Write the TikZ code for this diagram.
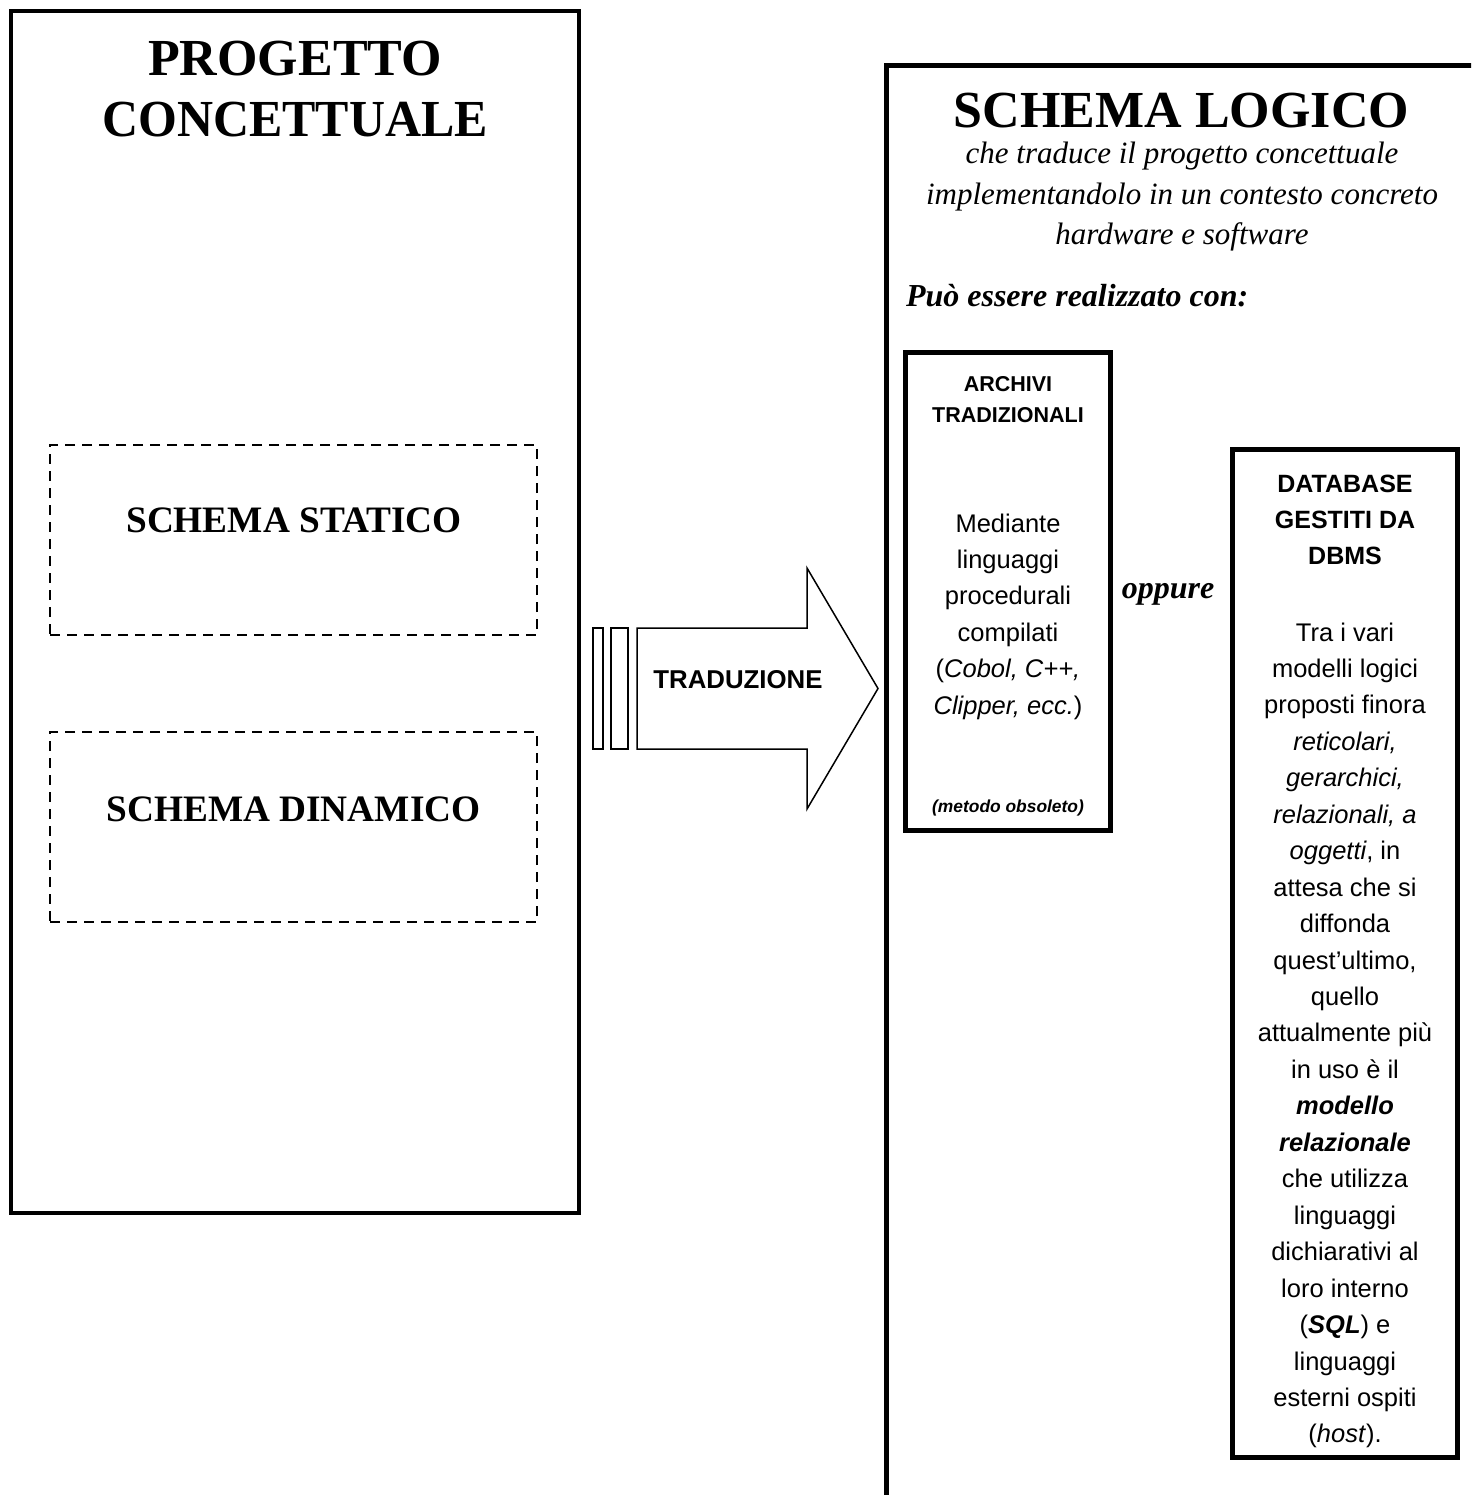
\documentclass[tikz,border=0pt]{standalone}
\usepackage{fontspec}
\setmainfont{Liberation Serif}
\setsansfont{Liberation Sans}
\begin{document}
\begin{tikzpicture}[x=1pt,y=-1pt,
  % multi-line text nodes are placed at the baseline of their last line
  txt/.style={inner sep=0pt, outer sep=0pt, align=center, anchor=base},
  headtxt/.style={txt, font=\fontsize{52}{61}\selectfont\bfseries},
  parttxt/.style={txt, font=\fontsize{37.3}{44}\selectfont\bfseries},
  notetxt/.style={txt, font=\fontsize{31}{40.5}\selectfont\itshape},
  leadtxt/.style={txt, font=\fontsize{32}{40}\selectfont\bfseries\itshape},
  bodytxt/.style={txt, font=\fontsize{25.5}{36.45}\selectfont\sffamily},
  boxhead/.style 2 args={txt, font=\fontsize{#1}{#2}\selectfont\sffamily\bfseries},
  solidbox/.style={draw, rectangle, inner sep=0pt, line width=#1},
  solidbox/.default=5,
  dashbox/.style={draw, rectangle, inner sep=0pt, line width=2.5, dash pattern=on 10pt off 7pt},
  blockarrow/.style={draw, line width=1.5, line join=miter, fill=white}
]
\useasboundingbox (0,0) rectangle (1471,1495);
\clip (0,0) rectangle (1471,1495);

% conceptual design frame
\node[solidbox=4, minimum width=568, minimum height=1201] (concept) at (294.5,612) {};
\node[headtxt] (concepttitle) at (295,137) {PROGETTO\\\scalebox{0.96}[1]{CONCETTUALE}};

\node[dashbox, minimum width=487, minimum height=190] (static) at (293.5,540) {};
\node[parttxt] (statictxt) at (294,532) {SCHEMA STATICO};
\node[dashbox, minimum width=487, minimum height=190] (dynamic) at (293.5,827) {};
\node[parttxt] (dynamictxt) at (293.5,821) {SCHEMA DINAMICO};

% translation arrow
\coordinate (tailtop) at (637,628);
\coordinate (tailbot) at (637,749);
\coordinate (tip) at (878,688.5);
\draw[blockarrow] (593,628) rectangle (603,749);
\draw[blockarrow] (611,628) rectangle (628,749);
\draw[blockarrow] (tailtop) -- (807,628) -- (807,568) -- (tip) -- (807,809) -- (807,749) -- (tailbot) -- cycle;
\node[boxhead={25.8}{30}] (transl) at (738,688) {TRADUZIONE};

% logical schema frame (runs past the page edges)
\coordinate (logicbl) at (886,1510);
\coordinate (logictl) at (886,66);
\coordinate (logictr) at (1490,66);
\draw[line width=5] (logicbl) -- (logictl) -- (logictr);
\node[headtxt] (logictitle) at (1181.5,128) {SCHEMA LOGICO};
\node[notetxt] (logicnote) at (1182,245) {che traduce il progetto concettuale\\implementandolo in un contesto concreto\\hardware e software};
\node[leadtxt, anchor=base west] (lead) at (906,306) {Può essere realizzato con:};

% traditional files
\node[solidbox, minimum width=205, minimum height=478] (archivi) at (1008,591.5) {};
\node[boxhead={21.5}{31}] (archivihead) at (1008,422) {ARCHIVI\\TRADIZIONALI};
\node[bodytxt] (archivibody) at (1008,714.3) {Mediante\\linguaggi\\procedurali\\compilati\\(\textit{Cobol, C++,}\\\textit{Clipper, ecc.})};
\node[txt, font=\fontsize{17.4}{20}\selectfont\sffamily\bfseries\itshape] (obsolete) at (1008,812) {(metodo obsoleto)};

\node[leadtxt] (oppure) at (1168,598) {oppure};

% DBMS-managed databases
\node[solidbox, minimum width=224.5, minimum height=1007.5] (dbms) at (1344.75,953.25) {};
\node[boxhead={25}{36}] (dbmshead) at (1345,564) {DATABASE\\GESTITI DA\\DBMS};
\node[bodytxt] (dbmsbody) at (1345,1442.9) {Tra i vari\\modelli logici\\proposti finora\\\textit{reticolari,}\\\textit{gerarchici,}\\\textit{relazionali, a}\\\textit{oggetti}, in\\attesa che si\\diffonda\\quest’ultimo,\\quello\\attualmente più\\in uso è il\\\textbf{\textit{modello}}\\\textbf{\textit{relazionale}}\\che utilizza\\linguaggi\\dichiarativi al\\loro interno\\(\textbf{\textit{SQL}}) e\\linguaggi\\esterni ospiti\\(\textit{host}).};
\end{tikzpicture}
\end{document}
